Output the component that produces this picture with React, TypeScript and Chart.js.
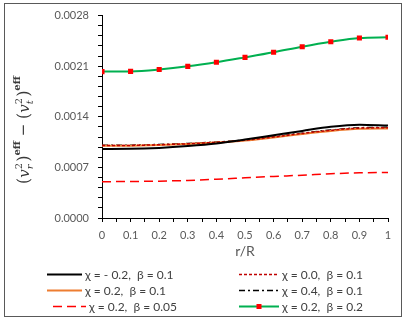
import React, { useEffect, useRef } from "react";
import { Chart, registerables } from "chart.js";

Chart.register(...registerables);

const rValues = [0, 0.1, 0.2, 0.3, 0.4, 0.5, 0.6, 0.7, 0.8, 0.9, 1];
const chiM02Beta01 = [0.000955, 0.000957, 0.00097, 0.000995, 0.00103, 0.001085, 0.001145, 0.001205, 0.001262, 0.00129, 0.001278];
const chi00Beta01 = [0.001002, 0.001004, 0.001013, 0.001027, 0.001047, 0.001075, 0.00112, 0.00117, 0.001213, 0.001243, 0.001248];
const chi02Beta01 = [0.000998, 0.001, 0.001009, 0.001023, 0.001043, 0.001071, 0.001115, 0.001163, 0.001205, 0.001233, 0.001238];
const chi04Beta01 = [0.001006, 0.001008, 0.001017, 0.001031, 0.001051, 0.001079, 0.001124, 0.001174, 0.001217, 0.001248, 0.001254];
const chi02Beta005 = [0.000502, 0.000505, 0.00051, 0.00052, 0.000537, 0.000556, 0.000575, 0.000592, 0.000612, 0.000625, 0.00063];
const chi02Beta02 = [0.002025, 0.002028, 0.002055, 0.002098, 0.002155, 0.002222, 0.002292, 0.00237, 0.002438, 0.00249, 0.0025];

const legendLabels = [
  "χ = - 0.2,  β = 0.1",
  "χ = 0.0,  β = 0.1",
  "χ = 0.2,  β = 0.1",
  "χ = 0.4,  β = 0.1",
  "χ = 0.2,  β = 0.05",
  "χ = 0.2,  β = 0.2",
];

const yTickValues = Array.from({ length: 21 }, (_, i) => Math.round(i * 14) / 100000);
const xTickValues = Array.from({ length: 21 }, (_, i) => i / 20);

const FONT = "Lato, 'Open Sans', 'Liberation Sans', sans-serif";

const extrasPlugin = {
  id: "extras",
  afterDraw(chart: any) {
    const ctx = chart.ctx as CanvasRenderingContext2D;
    ctx.save();
    // outer border
    ctx.strokeStyle = "#595959";
    ctx.lineWidth = 1;
    ctx.setLineDash([]);
    ctx.strokeRect(4.5, 3.5, 397, 313);

    // x axis title
    ctx.fillStyle = "#595959";
    ctx.font = `14px ${FONT}`;
    ctx.textAlign = "center";
    ctx.textBaseline = "middle";
    ctx.fillText("r/R", 245, 251);

    // y axis title (rotated)
    ctx.save();
    ctx.translate(24, 130);
    ctx.rotate(-Math.PI / 2);
    ctx.fillStyle = "#3a3a3a";
    ctx.textBaseline = "alphabetic";
    ctx.textAlign = "left";
    const serif = "'DejaVu Serif', 'Liberation Serif', serif";
    const pieces: any[] = [];
    const group = (sub: string) => {
      pieces.push({ t: "(", f: `16px ${serif}`, dy: 0 });
      pieces.push({ t: "v", f: `italic 15px ${serif}`, dy: 0 });
      pieces.push({ stack: true, sup: "2", sub, f: `10px ${serif}`, fi: `italic 10px ${serif}` });
      pieces.push({ t: ")", f: `16px ${serif}`, dy: 0 });
      pieces.push({ t: "eff", f: `bold 10px ${serif}`, dy: -9 });
    };
    group("r");
    pieces.push({ t: " − ", f: `15px ${serif}`, dy: -1 });
    group("t");
    let total = 0;
    const widths = pieces.map((p) => {
      if (p.stack) {
        ctx.font = p.f;
        const a = ctx.measureText(p.sup).width;
        ctx.font = p.fi;
        const b = ctx.measureText(p.sub).width;
        return Math.max(a, b) + 1;
      }
      ctx.font = p.f;
      return ctx.measureText(p.t).width;
    });
    total = widths.reduce((s, w) => s + w, 0);
    let x = -total / 2;
    const base = 5;
    pieces.forEach((p, i) => {
      if (p.stack) {
        ctx.font = p.f;
        ctx.fillText(p.sup, x, base - 7);
        ctx.font = p.fi;
        ctx.fillText(p.sub, x, base + 4);
      } else {
        ctx.font = p.f;
        ctx.fillText(p.t, x, base + p.dy);
      }
      x += widths[i];
    });
    ctx.restore();

    // legend
    const ds = chart.data.datasets;
    const entries = [
      { i: 0, x1: 47, x2: 82, tx: 85, y: 274 },
      { i: 1, x1: 239, x2: 279, tx: 282, y: 274 },
      { i: 2, x1: 47, x2: 82, tx: 85, y: 290 },
      { i: 3, x1: 239, x2: 279, tx: 282, y: 290 },
      { i: 4, x1: 53, x2: 86, tx: 89, y: 306 },
      { i: 5, x1: 239, x2: 279, tx: 282, y: 306 },
    ];
    entries.forEach((e) => {
      const d = ds[e.i];
      ctx.strokeStyle = d.borderColor;
      ctx.lineWidth = d.borderWidth;
      ctx.setLineDash(d.borderDash || []);
      ctx.beginPath();
      ctx.moveTo(e.x1, e.y + 0.5);
      ctx.lineTo(e.x2, e.y + 0.5);
      ctx.stroke();
      ctx.setLineDash([]);
      if (d.pointRadius > 0) {
        ctx.fillStyle = d.pointBackgroundColor;
        const mx = (e.x1 + e.x2) / 2;
        ctx.fillRect(mx - 2.5, e.y - 2, 5, 5);
      }
      ctx.fillStyle = "#404040";
      ctx.font = `12px ${FONT}`;
      ctx.textAlign = "left";
      ctx.textBaseline = "middle";
      ctx.fillText(legendLabels[e.i], e.tx, e.y + 1);
    });
    ctx.restore();
  },
};

export default function App() {
  const canvasRef = useRef<HTMLCanvasElement | null>(null);

  useEffect(() => {
    const mk = (label: string, data: number[], color: string, width: number, dash: number[], extra: any = {}) => ({
      label,
      data: rValues.map((r, i) => ({ x: r, y: data[i] })),
      borderColor: color,
      backgroundColor: color,
      borderWidth: width,
      borderDash: dash,
      pointRadius: 0,
      cubicInterpolationMode: "monotone",
      fill: false,
      ...extra,
    });
    const chart = new Chart(canvasRef.current as HTMLCanvasElement, {
      type: "line",
      data: {
        datasets: [
          mk(legendLabels[0], chiM02Beta01, "#000000", 2, []),
          mk(legendLabels[1], chi00Beta01, "#c00000", 1.5, [3, 2]),
          mk(legendLabels[2], chi02Beta01, "#ed7d31", 2, []),
          mk(legendLabels[3], chi04Beta01, "#000000", 1.5, [6, 3, 2, 3]),
          mk(legendLabels[4], chi02Beta005, "#ff0000", 1.5, [9, 5]),
          mk(legendLabels[5], chi02Beta02, "#00b050", 2, [], {
            pointRadius: 3.6,
            pointStyle: "rect",
            pointBackgroundColor: "#ff0000",
            pointBorderColor: "#ff0000",
            pointBorderWidth: 0,
          }),
        ] as any,
      },
      options: {
        responsive: false,
        animation: false,
        layout: { padding: { left: 0, right: 20, top: 14, bottom: 0 } },
        plugins: { legend: { display: false }, tooltip: { enabled: false } },
        scales: {
          x: {
            type: "linear",
            min: 0,
            max: 1,
            afterBuildTicks: (scale: any) => {
              scale.ticks = xTickValues.map((v) => ({ value: v }));
            },
            afterFit: (scale: any) => {
              scale.height = 104;
            },
            border: { display: true, color: "#000000", width: 1 },
            grid: { drawOnChartArea: false, drawTicks: true, tickLength: 4, color: "#000000" },
            ticks: {
              autoSkip: false,
              maxRotation: 0,
              padding: 7,
              color: "#595959",
              font: { family: FONT, size: 11 },
              callback: (value: any) => {
                const v = Math.round(Number(value) * 100);
                if (v % 10 !== 0) return "";
                return String(v / 100);
              },
            },
          },
          y: {
            type: "linear",
            min: 0,
            max: 0.0028,
            afterBuildTicks: (scale: any) => {
              scale.ticks = yTickValues.map((v) => ({ value: v }));
            },
            afterFit: (scale: any) => {
              scale.width = 102;
            },
            border: { display: true, color: "#000000", width: 1 },
            grid: { drawOnChartArea: false, drawTicks: true, tickLength: 4, color: "#000000" },
            ticks: {
              autoSkip: false,
              padding: 9,
              color: "#595959",
              font: { family: FONT, size: 11 },
              callback: (value: any) => {
                const k = Math.round(Number(value) * 100000);
                if (k % 70 !== 0) return "";
                return (k / 100000).toFixed(4);
              },
            },
          },
        },
      } as any,
      plugins: [extrasPlugin],
    });
    return () => chart.destroy();
  }, []);

  return (
    <div style={{ position: "absolute", left: 0, top: 0, width: 408, height: 322, background: "#ffffff" }}>
      <canvas ref={canvasRef} width={408} height={322} />
    </div>
  );
}
